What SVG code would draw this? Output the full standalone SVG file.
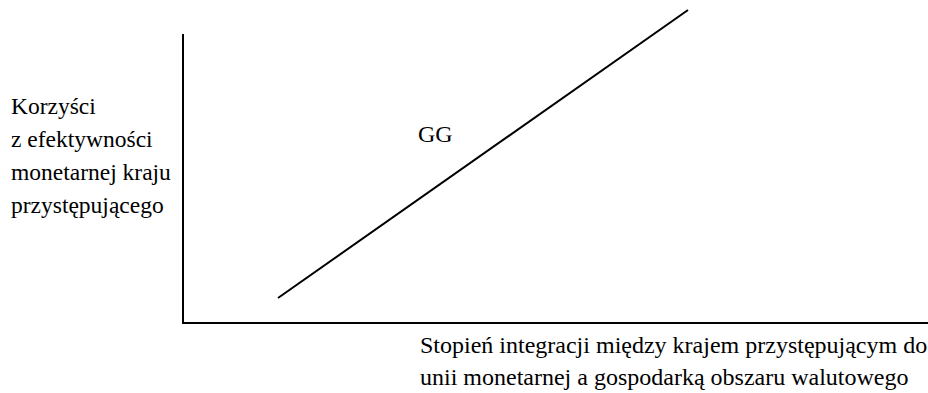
<svg xmlns="http://www.w3.org/2000/svg" width="928" height="393" viewBox="0 0 928 393">
  <style>
    .t { font-family: "Liberation Serif", "Times New Roman", serif; font-size: 24px; fill: #000; }
    .ln { stroke: #000; stroke-width: 2; fill: none; }
  </style>
  <rect width="928" height="393" fill="#fff"/>
  <g id="axes">
    <path class="ln" d="M183 34 V323 H928"/>
  </g>
  <g id="curve-gg">
    <line class="ln" x1="278" y1="298" x2="688" y2="10"/>
    <text class="t" x="418" y="142">GG</text>
  </g>
  <g id="y-label">
    <text class="t" x="11" y="114" style="font-size:23.5px">Korzyści</text>
    <text class="t" x="11" y="147" style="font-size:23.5px">z efektywności</text>
    <text class="t" x="11" y="180" style="font-size:23.5px">monetarnej kraju</text>
    <text class="t" x="11" y="213" style="font-size:23.5px">przystępującego</text>
  </g>
  <g id="x-label">
    <text class="t" x="420" y="353">Stopień integracji między krajem przystępującym do</text>
    <text class="t" x="420" y="385">unii monetarnej a gospodarką obszaru walutowego</text>
  </g>
</svg>
